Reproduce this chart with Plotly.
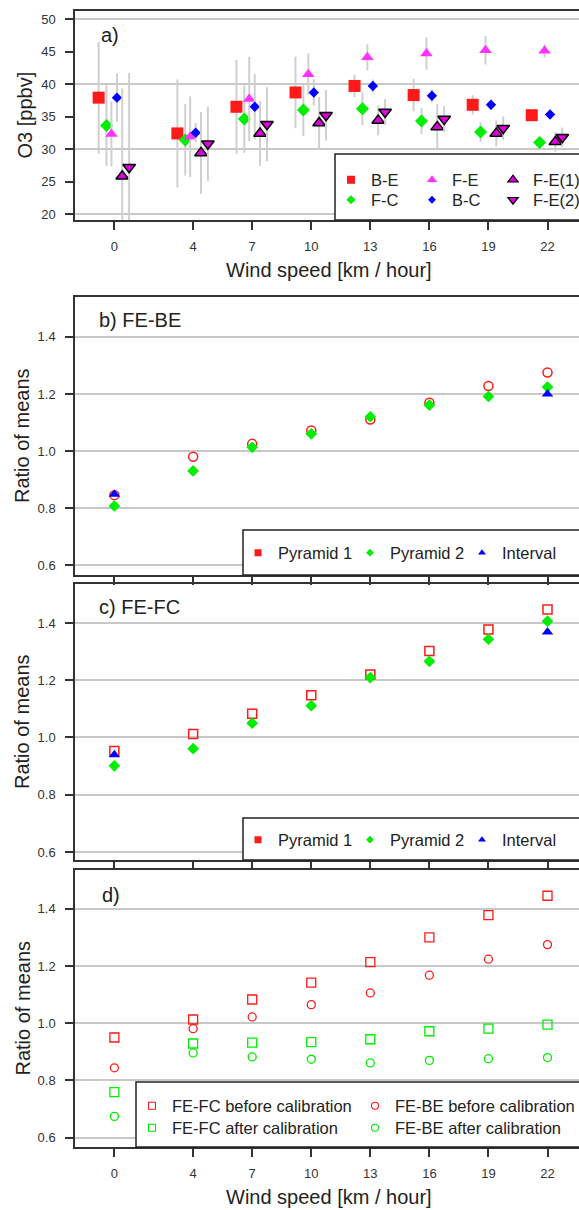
import plotly.graph_objects as go

# ---------------- data ----------------
wind_speed = [0, 4, 7, 10, 13, 16, 19, 22]
x_tick_labels = ["0", "4", "7", "10", "13", "16", "19", "22"]

# panel a) O3 means [ppbv] and half-lengths of the grey bars
o3_be = [37.9, 32.4, 36.5, 38.7, 39.7, 38.3, 36.8, 35.2]
o3_fc = [33.6, 31.4, 34.6, 36.0, 36.2, 34.3, 32.6, 31.0]
o3_fe = [32.3, 31.9, 37.7, 41.5, 44.1, 44.7, 45.2, 45.1]
o3_bc = [37.9, 32.5, 36.5, 38.7, 39.7, 38.2, 36.8, 35.3]
o3_fe1 = [25.8, 29.4, 32.4, 34.0, 34.4, 33.4, 32.4, 31.1]
o3_fe2 = [27.2, 30.8, 33.8, 35.2, 35.7, 34.6, 33.2, 31.8]

err_be = [8.6, 8.3, 7.2, 5.5, 1.7, 2.5, 1.5, 0.5]
err_fc = [6.2, 5.5, 5.2, 4.0, 2.5, 2.0, 1.5, 0.8]
err_fe = [5.0, 6.2, 6.5, 3.2, 2.0, 2.5, 2.2, 1.0]
err_bc = [3.7, 1.5, 5.0, 2.0, 1.0, 1.0, 0.8, 0.5]
err_fe1 = [13.5, 6.3, 5.0, 4.0, 2.3, 3.5, 2.0, 1.5]
err_fe2 = [14.5, 5.7, 5.7, 3.9, 2.0, 2.0, 1.8, 1.5]

# panel b) FE-BE ratio of means
b_pyramid1 = [0.845, 0.980, 1.025, 1.072, 1.110, 1.169, 1.228, 1.275]
b_pyramid2 = [0.807, 0.930, 1.013, 1.060, 1.120, 1.161, 1.191, 1.224]
b_interval_x = [0, 22]
b_interval = [0.848, 1.200]

# panel c) FE-FC ratio of means
c_pyramid1 = [0.953, 1.012, 1.083, 1.147, 1.220, 1.302, 1.377, 1.447]
c_pyramid2 = [0.901, 0.961, 1.050, 1.111, 1.209, 1.266, 1.343, 1.406]
c_interval_x = [0, 22]
c_interval = [0.940, 1.368]

# panel d) before / after calibration
d_fefc_before = [0.950, 1.013, 1.083, 1.142, 1.214, 1.300, 1.378, 1.446]
d_febe_before = [0.844, 0.981, 1.022, 1.065, 1.106, 1.168, 1.224, 1.275]
d_fefc_after = [0.759, 0.929, 0.932, 0.934, 0.944, 0.972, 0.981, 0.995]
d_febe_after = [0.674, 0.896, 0.882, 0.874, 0.861, 0.870, 0.876, 0.880]

o3_ticks = [20, 25, 30, 35, 40, 45, 50]
o3_grid = [20, 30, 40, 50]
ratio_ticks = [0.6, 0.8, 1.0, 1.2, 1.4]

# ---------------- layout helpers ----------------
FONT = "Liberation Sans, Arial, sans-serif"
W, H = 579, 1210
ML, MR, MT, MB = 75, 0, 11, 63
PW = W - ML - MR
PH = H - MT - MB


def py(pix):
    return (H - MB - pix) / PH


def px(pix):
    return (pix - ML) / PW


RED = "#ff1a1a"
GREEN = "#00ee00"
BLUE = "#0000ff"
MAG = "#ff33ff"
MAG2 = "#dd00dd"
AXC = "#333333"
GRIDC = "#c8c8c8"
ERRC = "#cfcfcf"

fig = go.Figure()

# ---------- panel a ----------
dodge = [-0.8, -0.4, -0.15, 0.13, 0.4, 0.75]
series_a = [
    ("B-E", o3_be, err_be, dict(symbol="square", size=12, color=RED)),
    ("F-C", o3_fc, err_fc, dict(symbol="diamond", size=10, color=GREEN)),
    ("F-E", o3_fe, err_fe, dict(symbol="triangle-up", size=11, color=MAG)),
    ("B-C", o3_bc, err_bc, dict(symbol="diamond", size=8, color=BLUE)),
    ("F-E(1)", o3_fe1, err_fe1, dict(symbol="triangle-up", size=11, color=MAG2,
                                      line=dict(color="black", width=1.5))),
    ("F-E(2)", o3_fe2, err_fe2, dict(symbol="triangle-down", size=11, color=MAG2,
                                      line=dict(color="black", width=1.5))),
]
for (name, vals, errs, mk), off in zip(series_a, dodge):
    fig.add_trace(go.Scatter(
        x=[w + off for w in wind_speed], y=vals, mode="markers", marker=mk,
        error_y=dict(type="data", array=errs, color=ERRC, thickness=2, width=0),
        showlegend=False, xaxis="x", yaxis="y", name=name))

# legend entries for panel a (smaller symbols as in the original legend)
legend_a = [
    ("B-E", dict(symbol="square", size=8, color=RED), "legend", None),
    ("F-E", dict(symbol="triangle-up", size=9, color=MAG), "legend", None),
    ("F-E(1)", dict(symbol="triangle-up", size=9, color=MAG2, line=dict(color="black", width=1.2)), "legend", 70),
    ("F-C", dict(symbol="diamond", size=7, color=GREEN), "legend2", None),
    ("B-C", dict(symbol="diamond", size=6, color=BLUE), "legend2", None),
    ("F-E(2)", dict(symbol="triangle-down", size=9, color=MAG2, line=dict(color="black", width=1.2)), "legend2", 70),
]
for name, mk, lg, lw in legend_a:
    tr = go.Scatter(x=[None], y=[None], mode="markers", marker=mk, name=name,
                    legend=lg, xaxis="x", yaxis="y")
    if lw:
        tr.legendwidth = lw
    fig.add_trace(tr)

# ---------- panel b ----------
fig.add_trace(go.Scatter(x=wind_speed, y=b_pyramid1, mode="markers", showlegend=False,
                         marker=dict(symbol="circle-open", size=9, color=RED, line=dict(width=1.5)),
                         xaxis="x2", yaxis="y2", name="Pyramid 1"))
fig.add_trace(go.Scatter(x=wind_speed, y=b_pyramid2, mode="markers", showlegend=False,
                         marker=dict(symbol="diamond", size=9, color=GREEN),
                         xaxis="x2", yaxis="y2", name="Pyramid 2"))
fig.add_trace(go.Scatter(x=b_interval_x, y=b_interval, mode="markers", showlegend=False,
                         marker=dict(symbol="triangle-up", size=10, color=BLUE),
                         xaxis="x2", yaxis="y2", name="Interval"))

# ---------- panel c ----------
fig.add_trace(go.Scatter(x=wind_speed, y=c_pyramid1, mode="markers", showlegend=False,
                         marker=dict(symbol="square-open", size=9, color=RED, line=dict(width=1.5)),
                         xaxis="x3", yaxis="y3", name="Pyramid 1"))
fig.add_trace(go.Scatter(x=wind_speed, y=c_pyramid2, mode="markers", showlegend=False,
                         marker=dict(symbol="diamond", size=9, color=GREEN),
                         xaxis="x3", yaxis="y3", name="Pyramid 2"))
fig.add_trace(go.Scatter(x=c_interval_x, y=c_interval, mode="markers", showlegend=False,
                         marker=dict(symbol="triangle-up", size=10, color=BLUE),
                         xaxis="x3", yaxis="y3", name="Interval"))

legend_bc = [
    ("Pyramid 1", dict(symbol="square", size=7, color=RED)),
    ("Pyramid 2", dict(symbol="diamond", size=6, color=GREEN)),
    ("Interval", dict(symbol="triangle-up", size=7, color=BLUE)),
]
for lg, xa, ya in (("legend3", "x2", "y2"), ("legend4", "x3", "y3")):
    for name, mk in legend_bc:
        tr = go.Scatter(x=[None], y=[None], mode="markers", marker=mk, name=name,
                        legend=lg, xaxis=xa, yaxis=ya)
        if name == "Interval":
            tr.legendwidth = 80
        fig.add_trace(tr)

# ---------- panel d ----------
series_d = [
    ("FE-FC before calibration", d_fefc_before, dict(symbol="square-open", size=9, color=RED, line=dict(width=1.3)), "legend5"),
    ("FE-BE before calibration", d_febe_before, dict(symbol="circle-open", size=8, color=RED, line=dict(width=1.3)), "legend5"),
    ("FE-FC after calibration", d_fefc_after, dict(symbol="square-open", size=9, color=GREEN, line=dict(width=1.3)), "legend6"),
    ("FE-BE after calibration", d_febe_after, dict(symbol="circle-open", size=8, color=GREEN, line=dict(width=1.3)), "legend6"),
]
for name, vals, mk, lg in series_d:
    fig.add_trace(go.Scatter(x=wind_speed, y=vals, mode="markers", marker=mk, showlegend=False,
                             xaxis="x4", yaxis="y4", name=name))
for name, vals, mk, lg in series_d:
    small = dict(mk)
    small["size"] = 7
    small["line"] = dict(width=1.1)
    fig.add_trace(go.Scatter(x=[None], y=[None], mode="markers", marker=small, name=name,
                             legend=lg, xaxis="x4", yaxis="y4"))

# ---------------- axes ----------------
XR = [-2.0, 23.6]
tickfont = dict(family=FONT, size=13, color=AXC)


def xaxis(anchor, labels):
    return dict(anchor=anchor, domain=[0, 1], range=XR, tickmode="array", tickvals=wind_speed,
                ticktext=x_tick_labels, showticklabels=labels, ticks="outside", ticklen=8,
                tickwidth=1.5, tickcolor=AXC, showline=True, mirror=True, linecolor=AXC,
                linewidth=1.5, showgrid=False, zeroline=False, tickfont=tickfont,
                ticklabelstandoff=6, fixedrange=True)


def yaxis(anchor, dom, rng, ticks, grid):
    return dict(anchor=anchor, domain=dom, range=rng, tickmode="array", tickvals=ticks,
                ticktext=[f"{t:.1f}" if isinstance(t, float) else str(t) for t in ticks],
                ticks="outside", ticklen=8, tickwidth=1.5, tickcolor=AXC, showline=True,
                mirror=False, linecolor=AXC, linewidth=1.5, showgrid=grid, gridcolor=GRIDC,
                gridwidth=2, zeroline=False, tickfont=tickfont, ticklabelstandoff=7,
                fixedrange=True)


dom_a = [py(220), py(11)]
dom_b = [py(575), py(297)]
dom_c = [py(860), py(584)]
dom_d = [py(1147), py(870)]

fig.update_layout(
    xaxis=xaxis("y", True),
    xaxis2=xaxis("y2", False),
    xaxis3=xaxis("y3", False),
    xaxis4=xaxis("y4", True),
    yaxis=yaxis("x", dom_a, [19.08, 51.23], o3_ticks, False),
    yaxis2=yaxis("x2", dom_b, [0.565, 1.54], ratio_ticks, True),
    yaxis3=yaxis("x3", dom_c, [0.572, 1.536], ratio_ticks, True),
    yaxis4=yaxis("x4", dom_d, [0.567, 1.536], ratio_ticks, True),
)

# horizontal reference lines of panel a every 10 ppbv
shapes = []
for g in o3_grid:
    shapes.append(dict(type="line", xref="x domain", yref="y", x0=0, x1=1, y0=g, y1=g,
                       line=dict(color=GRIDC, width=2), layer="below"))

# legend boxes
box_line = dict(color="#222222", width=1.5)
shapes.append(dict(type="rect", xref="paper", yref="paper", x0=px(335), x1=1.1,
                   y0=py(220), y1=py(154), fillcolor="white", line=box_line, layer="above"))
shapes.append(dict(type="rect", xref="paper", yref="paper", x0=px(243), x1=1.1,
                   y0=py(575), y1=py(530), fillcolor="white", line=box_line, layer="above"))
shapes.append(dict(type="rect", xref="paper", yref="paper", x0=px(243), x1=1.1,
                   y0=py(860), y1=py(818), fillcolor="white", line=box_line, layer="above"))
shapes.append(dict(type="rect", xref="paper", yref="paper", x0=px(136), x1=1.1,
                   y0=py(1147), y1=py(1082), fillcolor="white", line=box_line, layer="above"))

legfont = dict(family=FONT, size=16.5, color="#222222")


def legend(xpix, ypix, ew):
    return dict(orientation="h", x=px(xpix - 20), xanchor="left", y=py(ypix), yanchor="middle",
                bgcolor="rgba(0,0,0,0)", borderwidth=0, entrywidth=ew, entrywidthmode="pixels",
                font=legfont, traceorder="normal", itemclick=False, itemdoubleclick=False)


annotations = []
tfont = dict(family=FONT, size=20, color="#222222")
annotations.append(dict(text="O3 [ppbv]", textangle=-90, xref="paper", yref="paper",
                        x=px(25), y=py(115.5), showarrow=False, font=tfont,
                        xanchor="center", yanchor="middle"))
for yc in (436, 722, 1008.5):
    annotations.append(dict(text="Ratio of means", textangle=-90, xref="paper", yref="paper",
                            x=px(22), y=py(yc), showarrow=False, font=tfont,
                            xanchor="center", yanchor="middle"))
for yc in (270, 1197):
    annotations.append(dict(text="Wind speed [km / hour]", xref="paper", yref="paper",
                            x=px(329), y=py(yc), showarrow=False, font=tfont,
                            xanchor="center", yanchor="middle"))
for txt, xl, yc in (("a)", 99, 35), ("b) FE-BE", 97, 320), ("c) FE-FC", 97, 607), ("d)", 100, 895)):
    annotations.append(dict(text=txt, xref="paper", yref="paper", x=px(xl), y=py(yc),
                            showarrow=False, font=tfont, xanchor="left", yanchor="middle"))

fig.update_layout(
    width=W, height=H,
    margin=dict(l=ML, r=MR, t=MT, b=MB, autoexpand=False),
    paper_bgcolor="white", plot_bgcolor="white",
    font=dict(family=FONT, color="#222222"),
    shapes=shapes, annotations=annotations,
    legend=legend(351, 180, 36),
    legend2=legend(351, 200, 36),
    legend3=legend(258, 553, 67),
    legend4=legend(258, 840, 67),
    legend5=legend(152, 1106, 178),
    legend6=legend(152, 1128, 178),
    hovermode=False,
)

fig.write_html("out.html", config={"displayModeBar": False})
